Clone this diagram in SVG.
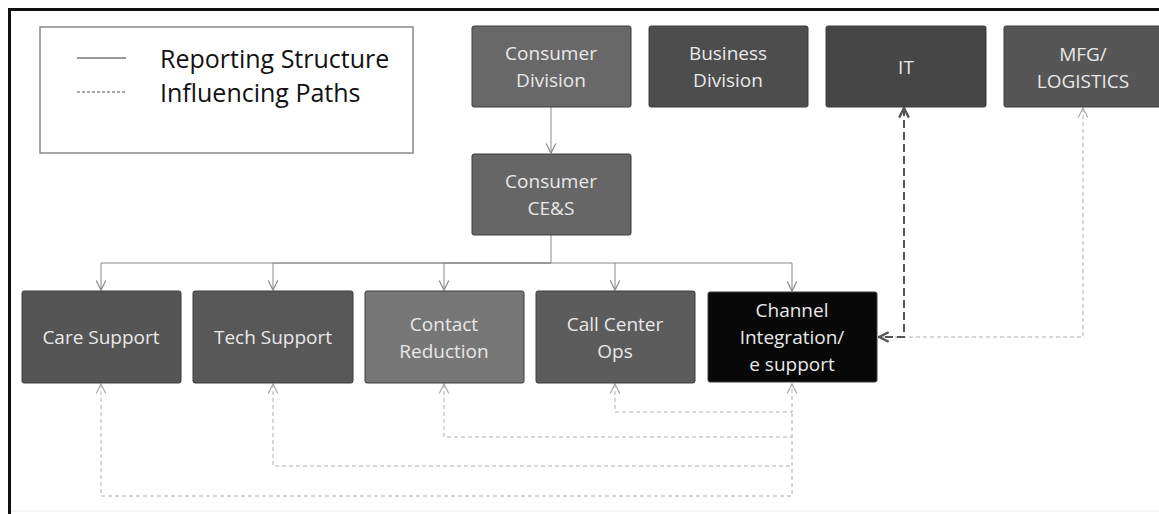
<svg xmlns="http://www.w3.org/2000/svg" width="1159" height="514" viewBox="0 0 1159 514">
<style>
.box{stroke:#3c3c3c;stroke-width:1}
.lbl{font-family:"Open Sans","Liberation Sans",sans-serif;font-size:19px;fill:#e8e8e8;text-anchor:middle}
.leg{font-family:"Open Sans","Liberation Sans",sans-serif;font-size:25px;fill:#111}
.rep{fill:none;stroke:#8a8a8a;stroke-width:1}
.inf{fill:none;stroke:#b0b0b0;stroke-width:1;stroke-dasharray:4 3}
.infd{fill:none;stroke:#555;stroke-width:2;stroke-dasharray:8 4}
</style>
<defs>
<marker id="ar" markerUnits="userSpaceOnUse" markerWidth="12" markerHeight="12" refX="9" refY="5" orient="auto-start-reverse" viewBox="0 0 10 10">
<path d="M1,1 L9,5 L1,9" fill="none" stroke="#8a8a8a" stroke-width="1"/>
</marker>
<marker id="al" markerUnits="userSpaceOnUse" markerWidth="12" markerHeight="12" refX="9" refY="5" orient="auto-start-reverse" viewBox="0 0 10 10">
<path d="M1,1 L9,5 L1,9" fill="none" stroke="#aaa" stroke-width="1"/>
</marker>
<marker id="ad" markerUnits="userSpaceOnUse" markerWidth="12" markerHeight="12" refX="9" refY="5" orient="auto-start-reverse" viewBox="0 0 10 10">
<path d="M1,1 L9,5 L1,9" fill="none" stroke="#555" stroke-width="2"/>
</marker>
</defs>
<rect width="1159" height="514" fill="#fff"/>
<g id="frame">
<path d="M1159,9.5 H9.5 V514" fill="none" stroke="#111" stroke-width="3"/>
<path d="M11,511 H1159" fill="none" stroke="#ececec" stroke-width="1"/>
</g>
<g id="legend">
<rect x="40" y="27" width="373" height="126" fill="#fff" stroke="#888" stroke-width="1.5"/>
<line x1="77" y1="58" x2="126" y2="58" stroke="#333" stroke-width="1.2"/>
<line x1="77" y1="92" x2="126" y2="92" stroke="#555" stroke-width="1.2" stroke-dasharray="3 2"/>
<text class="leg" x="160" y="68">Reporting Structure</text>
<text class="leg" x="160" y="102">Influencing Paths</text>
</g>
<g id="connectors">
<path class="rep" d="M551,107 V153" marker-end="url(#ar)"/>
<path class="rep" d="M551,235 V263 H101 V290" marker-end="url(#ar)"/>
<path class="rep" d="M551,263 H273 V290" marker-end="url(#ar)"/>
<path class="rep" d="M551,263 H444 V290" marker-end="url(#ar)"/>
<path class="rep" d="M551,263 H615 V290" marker-end="url(#ar)"/>
<path class="rep" d="M615,263 H792 V291" marker-end="url(#ar)"/>
<path class="inf" d="M615,384 V412 H792 V384" marker-start="url(#al)" marker-end="url(#al)"/>
<path class="inf" d="M444,384 V437 H792" marker-start="url(#al)"/>
<path class="inf" d="M273,384 V466 H792" marker-start="url(#al)"/>
<path class="inf" d="M101,384 V496 H792 V412" marker-start="url(#al)"/>
<path class="inf" d="M1083,108 V337 H879" marker-start="url(#al)" marker-end="url(#al)"/>
<path class="infd" d="M904,108 V337 H879" marker-start="url(#ad)" marker-end="url(#ad)"/>
</g>
<g id="consumer-division">
<rect class="box" x="472" y="26" width="159" height="81" rx="2" fill="#686868"/>
<text class="lbl" x="551" y="60">Consumer</text>
<text class="lbl" x="551" y="87">Division</text>
</g>
<g id="business-division">
<rect class="box" x="649" y="26" width="159" height="81" rx="2" fill="#4d4d4d"/>
<text class="lbl" x="728" y="60">Business</text>
<text class="lbl" x="728" y="87">Division</text>
</g>
<g id="it">
<rect class="box" x="826" y="26" width="160" height="81" rx="2" fill="#464646"/>
<text class="lbl" x="906" y="74">IT</text>
</g>
<g id="mfg-logistics">
<rect class="box" x="1004" y="26" width="160" height="81" rx="2" fill="#565656"/>
<text class="lbl" x="1083" y="61">MFG/</text>
<text class="lbl" x="1083" y="88">LOGISTICS</text>
</g>
<g id="consumer-ces">
<rect class="box" x="472" y="154" width="159" height="81" rx="2" fill="#666666"/>
<text class="lbl" x="551" y="188">Consumer</text>
<text class="lbl" x="551" y="215">CE&amp;S</text>
</g>
<g id="care-support">
<rect class="box" x="22" y="291" width="159" height="92" rx="2" fill="#555555"/>
<text class="lbl" x="101" y="344">Care Support</text>
</g>
<g id="tech-support">
<rect class="box" x="193" y="291" width="160" height="92" rx="2" fill="#585858"/>
<text class="lbl" x="273" y="344">Tech Support</text>
</g>
<g id="contact-reduction">
<rect class="box" x="365" y="291" width="159" height="92" rx="2" fill="#777777"/>
<text class="lbl" x="444" y="331">Contact</text>
<text class="lbl" x="444" y="358">Reduction</text>
</g>
<g id="call-center-ops">
<rect class="box" x="536" y="291" width="159" height="92" rx="2" fill="#5c5c5c"/>
<text class="lbl" x="615" y="331">Call Center</text>
<text class="lbl" x="615" y="358">Ops</text>
</g>
<g id="channel-integration">
<rect class="box" x="708" y="292" width="169" height="90" rx="2" fill="#080808" stroke="#222"/>
<text class="lbl" x="792" y="317">Channel</text>
<text class="lbl" x="792" y="344">Integration/</text>
<text class="lbl" x="792" y="371">e support</text>
</g>
</svg>
